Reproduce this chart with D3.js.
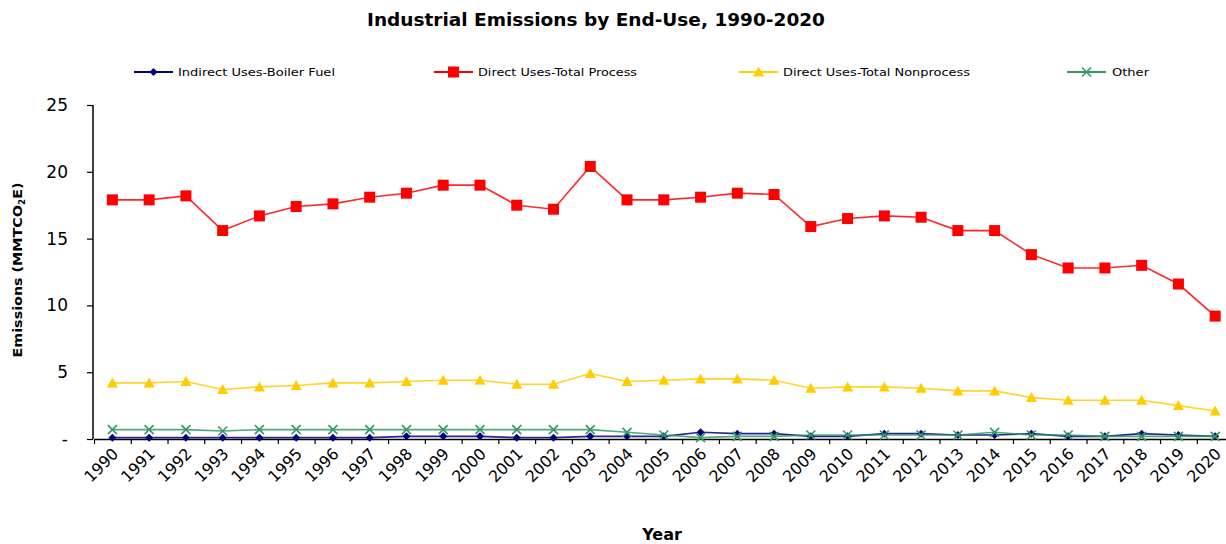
<!DOCTYPE html>
<html>
<head>
<meta charset="utf-8">
<script src="https://cdn.jsdelivr.net/npm/d3@7"></script>
<style>
  html, body { margin: 0; padding: 0; background: #fff; }
  svg { display: block; }
</style>
</head>
<body>
<svg id="chart" width="1226" height="544"></svg>
<script>
// Industrial emissions by end-use (MMTCO2E), 1990-2020
const years = d3.range(1990, 2021).map(String);

const seriesNames = [
  "Indirect Uses-Boiler Fuel",
  "Direct Uses-Total Process",
  "Direct Uses-Total Nonprocess",
  "Other"
];

const boilerFuel = [0.1, 0.1, 0.1, 0.1, 0.1, 0.1, 0.1, 0.1, 0.2, 0.2,
                    0.2, 0.1, 0.1, 0.2, 0.2, 0.2, 0.5, 0.4, 0.4, 0.2,
                    0.2, 0.4, 0.4, 0.3, 0.3, 0.4, 0.2, 0.2, 0.4, 0.3, 0.2];

const totalProcess = [17.9, 17.9, 18.2, 15.6, 16.7, 17.4, 17.6, 18.1, 18.4, 19.0,
                      19.0, 17.5, 17.2, 20.4, 17.9, 17.9, 18.1, 18.4, 18.3, 15.9,
                      16.5, 16.7, 16.6, 15.6, 15.6, 13.8, 12.8, 12.8, 13.0, 11.6, 9.2];

const totalNonprocess = [4.2, 4.2, 4.3, 3.7, 3.9, 4.0, 4.2, 4.2, 4.3, 4.4,
                         4.4, 4.1, 4.1, 4.9, 4.3, 4.4, 4.5, 4.5, 4.4, 3.8,
                         3.9, 3.9, 3.8, 3.6, 3.6, 3.1, 2.9, 2.9, 2.9, 2.5, 2.1];

const other = [0.7, 0.7, 0.7, 0.6, 0.7, 0.7, 0.7, 0.7, 0.7, 0.7,
               0.7, 0.7, 0.7, 0.7, 0.5, 0.3, 0.1, 0.2, 0.2, 0.3,
               0.3, 0.3, 0.3, 0.3, 0.5, 0.3, 0.3, 0.2, 0.2, 0.2, 0.2];

const yTicks = [0, 5, 10, 15, 20, 25];

const series = [
  { name: seriesNames[0], values: boilerFuel,      color: "#000080", marker: "diamond" },
  { name: seriesNames[1], values: totalProcess,    color: "#FF0000", marker: "square" },
  { name: seriesNames[2], values: totalNonprocess, color: "#FFCC00", marker: "triangle" },
  { name: seriesNames[3], values: other,           color: "#339966", marker: "cross" }
];

const svg = d3.select("#chart");
const labelFont = "'DejaVu Sans', sans-serif";

// plot geometry
const plotLeft = 94, bandW = 36.76, plotTop = 105, plotBottom = 439;
const plotRight = plotLeft + bandW * years.length;

const x = d3.scaleBand().domain(years).range([plotLeft, plotRight]).paddingInner(0).paddingOuter(0);
const xi = d3.scaleLinear().domain([0, years.length]).range([plotLeft, plotRight]);
const y = d3.scaleLinear().domain([0, 25]).range([plotBottom, plotTop]);
const cx = d => x(d) + x.bandwidth() / 2;

// title
svg.append("text")
  .attr("x", 596).attr("y", 26)
  .attr("text-anchor", "middle")
  .attr("font-family", labelFont).attr("font-weight", "bold").attr("font-size", 17)
  .attr("textLength", 458).attr("lengthAdjust", "spacingAndGlyphs")
  .text("Industrial Emissions by End-Use, 1990-2020");

// marker shapes
function drawMarker(g, type, color, px, py) {
  if (type === "square") {
    g.append("rect").attr("x", px - 5.5).attr("y", py - 5.5)
      .attr("width", 11).attr("height", 11).attr("fill", color);
  } else if (type === "triangle") {
    g.append("path")
      .attr("d", `M${px},${py - 5.5}L${px + 5.5},${py + 4.5}L${px - 5.5},${py + 4.5}Z`)
      .attr("fill", color);
  } else if (type === "diamond") {
    g.append("path")
      .attr("d", `M${px},${py - 4}L${px + 4},${py}L${px},${py + 4}L${px - 4},${py}Z`)
      .attr("fill", color);
  } else if (type === "cross") {
    g.append("path")
      .attr("d", `M${px - 4.5},${py - 4.5}L${px + 4.5},${py + 4.5}M${px + 4.5},${py - 4.5}L${px - 4.5},${py + 4.5}`)
      .attr("stroke", color).attr("stroke-width", 1.6).attr("fill", "none");
  }
}

// legend
const legendItems = [
  { x0: 134, tx: 178, tw: 157 },
  { x0: 434, tx: 478, tw: 159 },
  { x0: 739, tx: 783, tw: 187 },
  { x0: 1067, tx: 1112, tw: 37 }
];
series.forEach((s, i) => {
  const li = legendItems[i];
  const g = svg.append("g");
  g.append("line").attr("x1", li.x0).attr("x2", li.x0 + 39)
    .attr("y1", 72).attr("y2", 72)
    .attr("stroke", s.color).attr("stroke-width", 2);
  drawMarker(g, s.marker, s.color, li.x0 + 19.5, 72);
  g.append("text").attr("x", li.tx).attr("y", 76)
    .attr("font-family", labelFont).attr("font-size", 11)
    .attr("textLength", li.tw).attr("lengthAdjust", "spacingAndGlyphs")
    .text(s.name);
});

// y axis
const yAxis = svg.append("g")
  .attr("transform", `translate(${plotLeft - 1},0)`)
  .call(d3.axisLeft(y).tickValues(yTicks)
    .tickFormat(d => d === 0 ? "-" : d)
    .tickSize(6).tickPadding(19).tickSizeOuter(0));
yAxis.select(".domain").attr("stroke", "#000").attr("stroke-width", 1.5)
  .attr("d", `M0,${plotTop}V${plotBottom}`);
yAxis.selectAll(".tick line").attr("stroke", "#000").attr("stroke-width", 1.2);
yAxis.selectAll(".tick text")
  .attr("font-family", "'DejaVu Sans', sans-serif").attr("font-size", 17)
  .attr("fill", "#000");

// x axis
const xAxis = svg.append("g")
  .attr("transform", `translate(0,${plotBottom})`)
  .call(d3.axisBottom(xi).tickValues(d3.range(0, years.length + 1))
    .tickFormat("").tickSize(5).tickSizeOuter(0));
xAxis.select(".domain").attr("stroke", "#000").attr("stroke-width", 1.5);
xAxis.selectAll(".tick line").attr("stroke", "#000").attr("stroke-width", 1.2);

svg.append("g").selectAll("text").data(years).join("text")
  .attr("transform", d => `translate(${cx(d) + 3},${plotBottom + 12}) rotate(-45)`)
  .attr("text-anchor", "end")
  .attr("dy", "0.35em")
  .attr("font-family", labelFont).attr("font-size", 16)
  .attr("textLength", 40).attr("lengthAdjust", "spacingAndGlyphs")
  .text(d => d);

// axis titles
const yTitle = svg.append("text")
  .attr("transform", "translate(22,270) rotate(-90)")
  .attr("text-anchor", "middle")
  .attr("font-family", labelFont).attr("font-weight", "bold").attr("font-size", 13)
  .attr("textLength", 175).attr("lengthAdjust", "spacingAndGlyphs");
yTitle.append("tspan").text("Emissions (MMTCO");
yTitle.append("tspan").attr("font-size", 8).attr("dy", 3).text("2");
yTitle.append("tspan").attr("dy", -3).text("E)");

svg.append("text")
  .attr("x", 662).attr("y", 540)
  .attr("text-anchor", "middle")
  .attr("font-family", labelFont).attr("font-weight", "bold").attr("font-size", 16)
  .text("Year");

// series lines and markers
const line = d3.line().x((d, i) => cx(years[i])).y(d => y(d));
series.forEach(s => {
  const g = svg.append("g");
  g.append("path").datum(s.values)
    .attr("d", line).attr("fill", "none")
    .attr("stroke", s.color).attr("stroke-width", 1.6).attr("stroke-opacity", 0.85);
  s.values.forEach((v, i) => drawMarker(g, s.marker, s.color, cx(years[i]), y(v)));
});
</script>
</body>
</html>
